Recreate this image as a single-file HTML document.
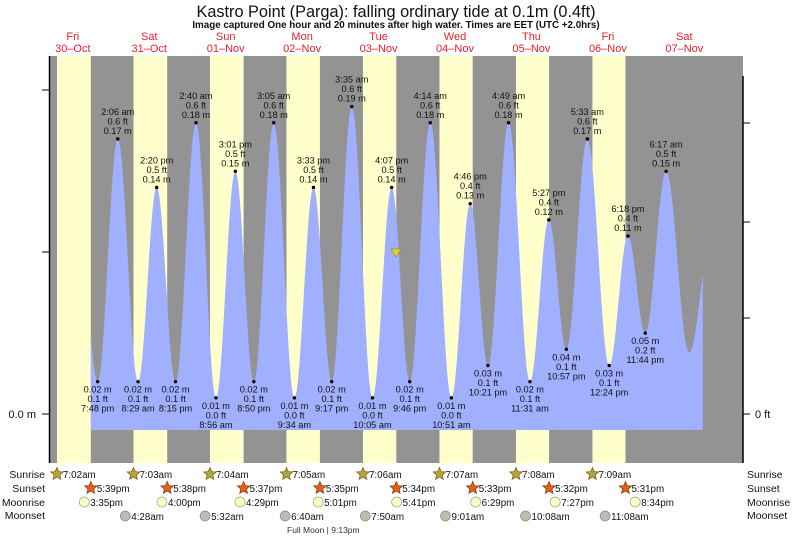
<!DOCTYPE html>
<html><head><meta charset="utf-8">
<style>
body{margin:0;background:#fff;}
svg{display:block;font-family:"Liberation Sans",sans-serif;}
</style></head>
<body>
<svg id="s" width="793" height="538" viewBox="0 0 793 538" xmlns="http://www.w3.org/2000/svg">
<rect x="49" y="56" width="694" height="407" fill="#939393"/>
<g id="days"></g>
<path id="tide" fill="#a0b0ff"/>
<g id="lbl" font-size="9.2" fill="#111" text-anchor="middle"></g>
<text x="396" y="17" font-size="16.3" text-anchor="middle" fill="#111">Kastro Point (Parga): falling  ordinary tide at 0.1m (0.4ft)</text>
<text x="396" y="28" font-size="9.8" font-weight="bold" text-anchor="middle" fill="#111">Image captured One hour and 20 minutes after high water. Times are EET (UTC +2.0hrs)</text>
<g id="dl" font-size="11" fill="#e8202a" text-anchor="middle"></g>
<line x1="49.5" y1="56" x2="49.5" y2="463" stroke="#000" stroke-width="1.5"/>
<line x1="743" y1="76" x2="743" y2="463" stroke="#000" stroke-width="1.5"/>
<g stroke="#000" stroke-width="1">
<line x1="42" y1="90" x2="49" y2="90"/><line x1="42" y1="252" x2="49" y2="252"/><line x1="42" y1="414" x2="49" y2="414"/>
<line x1="743" y1="123" x2="750" y2="123"/><line x1="743" y1="222" x2="750" y2="222"/><line x1="743" y1="318" x2="750" y2="318"/><line x1="743" y1="414" x2="750" y2="414"/>
</g>
<text x="36" y="418" font-size="11" text-anchor="end" fill="#111">0.0 m</text>
<text x="755" y="418" font-size="11" fill="#111">0 ft</text>
<polygon points="391,249 401,249 396,257" fill="#e8d030" stroke="#a09000" stroke-width="0.7"/>
<g font-size="10.5" fill="#111">
<text x="45" y="478" text-anchor="end">Sunrise</text>
<text x="45" y="492" text-anchor="end">Sunset</text>
<text x="45" y="506" text-anchor="end">Moonrise</text>
<text x="45" y="519" text-anchor="end">Moonset</text>
<text x="747" y="478">Sunrise</text>
<text x="747" y="492">Sunset</text>
<text x="747" y="506">Moonrise</text>
<text x="747" y="519">Moonset</text>
</g>
<g id="ev" font-size="9.8" fill="#111"></g>
<text x="287" y="533" font-size="8.5" fill="#333">Full Moon | 9:13pm</text>
</svg>
<script>
var NS="http://www.w3.org/2000/svg";
function X(t){return 34.6+3.185*t;}
function Y(h){return 414-1618*h;}
function el(p,tag,a,txt){var e=document.createElementNS(NS,tag);for(var k in a)e.setAttribute(k,a[k]);if(txt!=null)e.textContent=txt;document.getElementById(p).appendChild(e);return e;}
var sr=[7+2/60,7+3/60,7+4/60,7+5/60,7+6/60,7+7/60,7+8/60,7+9/60];
var ss=[17+39/60,17+38/60,17+37/60,17+35/60,17+34/60,17+33/60,17+32/60,17+31/60];
for(var d=0;d<8;d++){var a=X(d*24+sr[d]),b=X(d*24+ss[d]);el("days","rect",{x:a,y:56,width:b-a,height:407,fill:"#ffffcc"});}
var dn=[["Fri","30\u2013Oct"],["Sat","31\u2013Oct"],["Sun","01\u2013Nov"],["Mon","02\u2013Nov"],["Tue","03\u2013Nov"],["Wed","04\u2013Nov"],["Thu","05\u2013Nov"],["Fri","06\u2013Nov"],["Sat","07\u2013Nov"]];
for(var d=0;d<9;d++){var x=X(d*24+12);el("dl","text",{x:x,y:40},dn[d][0]);el("dl","text",{x:x,y:52},dn[d][1]);}
var E=[[13.5,0.13],
[19.8,0.02,"L","7:48 pm","0.1 ft","0.02 m"],[26.1,0.17,"H","2:06 am","0.6 ft","0.17 m"],
[32.48,0.02,"L","8:29 am","0.1 ft","0.02 m"],[38.33,0.14,"H","2:20 pm","0.5 ft","0.14 m"],
[44.25,0.02,"L","8:15 pm","0.1 ft","0.02 m"],[50.67,0.18,"H","2:40 am","0.6 ft","0.18 m"],
[56.93,0.01,"L","8:56 am","0.0 ft","0.01 m"],[63.02,0.15,"H","3:01 pm","0.5 ft","0.15 m"],
[68.83,0.02,"L","8:50 pm","0.1 ft","0.02 m"],[75.08,0.18,"H","3:05 am","0.6 ft","0.18 m"],
[81.57,0.01,"L","9:34 am","0.0 ft","0.01 m"],[87.55,0.14,"H","3:33 pm","0.5 ft","0.14 m"],
[93.28,0.02,"L","9:17 pm","0.1 ft","0.02 m"],[99.58,0.19,"H","3:35 am","0.6 ft","0.19 m"],
[106.08,0.01,"L","10:05 am","0.0 ft","0.01 m"],[112.12,0.14,"H","4:07 pm","0.5 ft","0.14 m"],
[117.77,0.02,"L","9:46 pm","0.1 ft","0.02 m"],[124.23,0.18,"H","4:14 am","0.6 ft","0.18 m"],
[130.85,0.01,"L","10:51 am","0.0 ft","0.01 m"],[136.77,0.13,"H","4:46 pm","0.4 ft","0.13 m"],
[142.35,0.03,"L","10:21 pm","0.1 ft","0.03 m"],[148.82,0.18,"H","4:49 am","0.6 ft","0.18 m"],
[155.52,0.02,"L","11:31 am","0.1 ft","0.02 m"],[161.45,0.12,"H","5:27 pm","0.4 ft","0.12 m"],
[166.95,0.04,"L","10:57 pm","0.1 ft","0.04 m"],[173.55,0.17,"H","5:33 am","0.6 ft","0.17 m"],
[180.4,0.03,"L","12:24 pm","0.1 ft","0.03 m"],[186.3,0.11,"H","6:18 pm","0.4 ft","0.11 m"],
[191.73,0.05,"L","11:44 pm","0.2 ft","0.05 m"],[198.28,0.15,"H","6:17 am","0.5 ft","0.15 m"],
[205.5,0.038],[212.5,0.11]];
function hAt(t){for(var i=0;i<E.length-1;i++){var a=E[i],b=E[i+1];if(t>=a[0]&&t<=b[0]){var f=(t-a[0])/(b[0]-a[0]);return a[1]+(b[1]-a[1])*(1-Math.cos(Math.PI*f))/2;}}return 0;}
var t0=17.65,t1=209.8,p="M"+X(t0)+",430";
for(var t=t0;t<=t1;t+=0.1){var h=hAt(t);p+=" L"+X(t).toFixed(2)+","+Y(h).toFixed(2);}
p+=" L"+X(t1)+","+Y(hAt(t1))+" L"+X(t1)+",430Z";
document.getElementById("tide").setAttribute("d",p);
for(var i=1;i<E.length-2;i++){var e=E[i],x=X(e[0]),y=Y(e[1]);
el("lbl","circle",{cx:x,cy:y,r:1.7,fill:"#000"});
if(e[2]=="H"){el("lbl","text",{x:x,y:y-24},e[3]);el("lbl","text",{x:x,y:y-14.5},e[4]);el("lbl","text",{x:x,y:y-5},e[5]);}
else{el("lbl","text",{x:x,y:y+11},e[5]);el("lbl","text",{x:x,y:y+20.5},e[4]);el("lbl","text",{x:x,y:y+30},e[3]);}}
function star(x,y,fill,stroke){var pts=[];for(var k=0;k<10;k++){var r=k%2?3:6.5,a=-Math.PI/2+k*Math.PI/5;pts.push((x+r*Math.cos(a)).toFixed(1)+","+(y+r*Math.sin(a)).toFixed(1));}
el("ev","polygon",{points:pts.join(" "),fill:fill,stroke:stroke,"stroke-width":0.8});}
var srs=["7:02am","7:03am","7:04am","7:05am","7:06am","7:07am","7:08am","7:09am"];
var sss=["5:39pm","5:38pm","5:37pm","5:35pm","5:34pm","5:33pm","5:32pm","5:31pm"];
for(var d=0;d<8;d++){var x=X(d*24+sr[d]);star(x,474,"#b0a838","#8a6020");el("ev","text",{x:x+6,y:478},srs[d]);
x=X(d*24+ss[d]);star(x,488,"#e06020","#904010");el("ev","text",{x:x+6,y:492},sss[d]);}
var mr=[[15+35/60,"3:35pm"],[16,"4:00pm"],[16+29/60,"4:29pm"],[17+1/60,"5:01pm"],[17+41/60,"5:41pm"],[18+29/60,"6:29pm"],[19+27/60,"7:27pm"],[20+34/60,"8:34pm"]];
for(var d=0;d<8;d++){var x=X(d*24+mr[d][0]);el("ev","circle",{cx:x,cy:502,r:5,fill:"#ffffc0",stroke:"#999","stroke-width":0.7});el("ev","text",{x:x+6,y:506},mr[d][1]);}
var ms=[[4+28/60,"4:28am"],[5+32/60,"5:32am"],[6+40/60,"6:40am"],[7+50/60,"7:50am"],[9+1/60,"9:01am"],[10+8/60,"10:08am"],[11+8/60,"11:08am"]];
for(var d=0;d<7;d++){var x=X((d+1)*24+ms[d][0]);el("ev","circle",{cx:x,cy:516,r:5,fill:"#bdbdb0",stroke:"#888","stroke-width":0.7});el("ev","text",{x:x+6,y:520},ms[d][1]);}
</script>
</body></html>
